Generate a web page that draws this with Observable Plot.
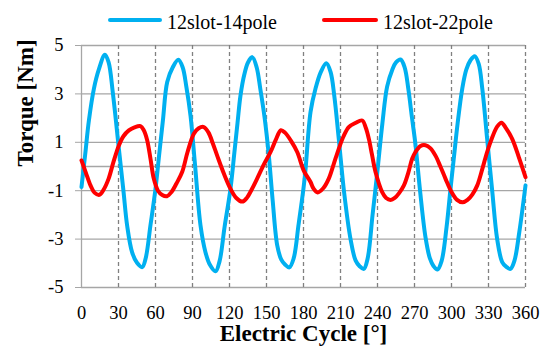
<!DOCTYPE html>
<html>
<head>
<meta charset="utf-8">
<script src="https://cdn.jsdelivr.net/npm/d3@7"></script>
<script src="https://cdn.jsdelivr.net/npm/@observablehq/plot@0.6"></script>
<style>
  html, body { margin: 0; padding: 0; background: #fff; }
  #wrap { position: relative; width: 548px; height: 347px; font-family: "Liberation Serif", "Times New Roman", serif; }
  .item { position: absolute; top: 8px; height: 24px; display: flex; align-items: center; font-size: 20px; color: #000; white-space: nowrap; }
  .sw { height: 4px; border-radius: 2px; margin-right: 5px; }
  .lbl { position: relative; top: 2px; }
</style>
</head>
<body>
<div id="wrap"></div>
<script>
// Series names and colours
const seriesNames = ["12slot-14pole", "12slot-22pole"];
const seriesColors = ["#00b0f0", "#ff0000"];

// Axis ticks
const xTicks = [0, 30, 60, 90, 120, 150, 180, 210, 240, 270, 300, 330, 360];
const yTicks = [-5, -3, -1, 1, 3, 5];
const yGrid = [-5, -3, -1, 0, 1, 3, 5];
const xDashed = [30, 60, 90, 120, 150, 180, 210, 240, 270, 300, 330, 360];

// [electric angle (deg), torque (Nm)]
const slot12pole14 = [
  [0, -0.85], [3, 0.5], [6, 1.9], [10, 3.2], [14, 4.0], [19, 4.62], [22, 4.3], [25.4, 3.05], [30.3, 0.73], [34, -1.0], [37, -2.44], [41, -3.54], [45, -3.98], [49.2, -4.16], [52, -3.8], [56, -2.4], [60, -0.92],
  [63, 0.5], [66, 1.9], [69.5, 3.49], [74, 4.1], [78.5, 4.41], [82, 4.1], [85, 3.3], [88.4, 2.1], [92, 0.1], [96.5, -2.44], [100.5, -3.54], [104, -4.05], [108.7, -4.33], [112, -3.9], [116, -2.5], [120.8, -0.92],
  [124, 0.6], [126.5, 1.8], [128.9, 2.93], [132, 3.8], [135, 4.3], [138.5, 4.52], [142, 4.1], [145, 3.2], [148.5, 2.0], [151.9, 0.45], [155, -1.4], [158.7, -3.26], [162, -3.85], [165, -4.05], [168.5, -4.17], [172, -3.8], [176, -2.4], [180, -0.9],
  [181.6, -0.15], [185.7, 2.25], [189.7, 3.21], [194, 3.9], [198.5, 4.27], [202, 3.9], [205, 2.9], [208.6, 1.14], [213, -1.1], [218.1, -2.99], [222.2, -3.88], [225.5, -4.12], [228.9, -4.23], [232, -3.8], [236, -2.0], [239.7, -0.3],
  [244, 1.8], [247.8, 3.3], [252, 4.0], [255, 4.3], [258.7, 4.42], [262, 4.1], [265, 3.2], [268, 2.0], [270.8, 0.9], [274.5, -1.0], [278.9, -2.92], [282.5, -3.8], [285.5, -4.12], [288.6, -4.26], [292, -3.9], [296, -2.5], [299.2, -0.92],
  [302, 0.4], [305, 1.8], [308.7, 3.21], [312, 4.0], [315.5, 4.4], [318.8, 4.56], [322, 4.25], [325, 3.2], [328.9, 1.14], [333, -1.0], [337, -2.99], [341.1, -3.95], [344.5, -4.15], [347.8, -4.23], [351, -3.9], [355, -2.7], [360, -0.78]
];

const slot12pole22 = [
  [0, 0.25], [3.5, -0.25], [7.3, -0.78], [10.5, -1.08], [14.5, -1.17], [18, -0.95], [22, -0.5], [26, 0.2], [30.3, 0.87], [34, 1.25], [38.4, 1.49], [43, 1.62], [47.8, 1.67], [50.5, 1.5], [53.2, 1.1], [56, 0.3], [58.6, -0.5],
  [62, -1.0], [65.5, -1.18], [69.2, -1.23], [73, -1.05], [77, -0.7], [81.6, -0.23], [86, 0.6], [91.1, 1.35], [95, 1.58], [99.2, 1.63], [103, 1.4], [106.5, 0.95], [110, 0.45], [115.5, -0.3], [120.8, -0.92],
  [125.5, -1.3], [130.3, -1.45], [134, -1.3], [138, -0.95], [142.4, -0.5], [148, 0.1], [153.3, 0.6], [157.5, 1.1], [161.7, 1.5], [165, 1.4], [170, 1.05], [174.9, 0.6], [180.3, -0.18], [185.7, -0.64], [188, -0.9],
  [191.5, -1.07], [196, -0.9], [200.5, -0.5], [204.5, 0.1], [208.6, 0.73], [212.5, 1.25], [216.7, 1.63], [222, 1.8], [227.6, 1.9], [230.5, 1.6], [233, 1.14], [235.5, 0.5], [238.4, -0.23], [243.8, -1.06], [247, -1.3],
  [250.6, -1.38], [254, -1.3], [257.5, -1.1], [261.4, -0.78], [265, -0.25], [268.1, 0.32], [270.8, 0.6], [274.9, 0.85], [278.9, 0.88], [283, 0.75], [287, 0.45], [291, 0.0], [295.1, -0.5], [300, -1.05], [304.5, -1.38],
  [309, -1.48], [313, -1.38], [317, -1.15], [320.9, -0.78], [325, -0.1], [328.9, 0.6], [333, 1.2], [337, 1.65], [340.5, 1.81], [344, 1.6], [349.2, 1.14], [354.5, 0.4], [360, -0.44]
];

const xTitle = "Electric Cycle [°]";
const yTitle = "Torque [Nm]";

const toRows = (pairs, name) => pairs.map(([x, y]) => ({x, y, name}));
const rows14 = toRows(slot12pole14, seriesNames[0]);
const rows22 = toRows(slot12pole22, seriesNames[1]);

const chart = Plot.plot({
  width: 548,
  height: 347,
  marginLeft: 81,
  marginRight: 23,
  marginTop: 45,
  marginBottom: 60,
  style: { fontFamily: "Liberation Serif, Times New Roman, serif", fontSize: "18.5px", color: "#000", background: "#fff" },
  x: { domain: [0, 360] },
  y: { domain: [-5, 5] },
  marks: [
    Plot.ruleY(yGrid, { stroke: "#a6a6a6", strokeWidth: 1.3 }),
    Plot.ruleX(xDashed, { y1: -5, y2: 5, stroke: "#808080", strokeWidth: 1.3, strokeDasharray: "4,3" }),
    Plot.ruleX([0], { y1: -5, y2: 5, stroke: "#a6a6a6", strokeWidth: 1.3 }),
    Plot.line(rows14, { x: "x", y: "y", stroke: seriesColors[0], strokeWidth: 4, curve: "catmull-rom" }),
    Plot.line(rows22, { x: "x", y: "y", stroke: seriesColors[1], strokeWidth: 4, curve: "catmull-rom" }),
    Plot.axisY({ ticks: yTicks, tickSize: 6, tickPadding: 12, stroke: "#a6a6a6", fill: "#000", label: null, tickFormat: d => String(d).replace("−", "-") }),
    Plot.axisX({ ticks: xTicks, tickSize: 0, tickPadding: 18, fill: "#000", label: null }),
    Plot.text([xTitle], { text: d => d, frameAnchor: "bottom", dy: 46, lineAnchor: "middle", fontWeight: "bold", fontSize: 23, fill: "#000" }),
    Plot.text([yTitle], { text: d => d, frameAnchor: "left", dx: -56, rotate: -90, lineAnchor: "middle", fontWeight: "bold", fontSize: 23, fill: "#000" })
  ]
});

const wrap = document.getElementById("wrap");
wrap.appendChild(chart);

// Legend (HTML, above the plot area)
const legendLeft = [108, 322];
const swatchWidth = [54, 56];
seriesNames.forEach((name, i) => {
  const item = document.createElement("div");
  item.className = "item";
  item.style.left = legendLeft[i] + "px";
  const sw = document.createElement("div");
  sw.className = "sw";
  sw.style.width = swatchWidth[i] + "px";
  sw.style.background = seriesColors[i];
  const lbl = document.createElement("span");
  lbl.className = "lbl";
  lbl.textContent = name;
  item.appendChild(sw);
  item.appendChild(lbl);
  wrap.appendChild(item);
});
</script>
</body>
</html>
